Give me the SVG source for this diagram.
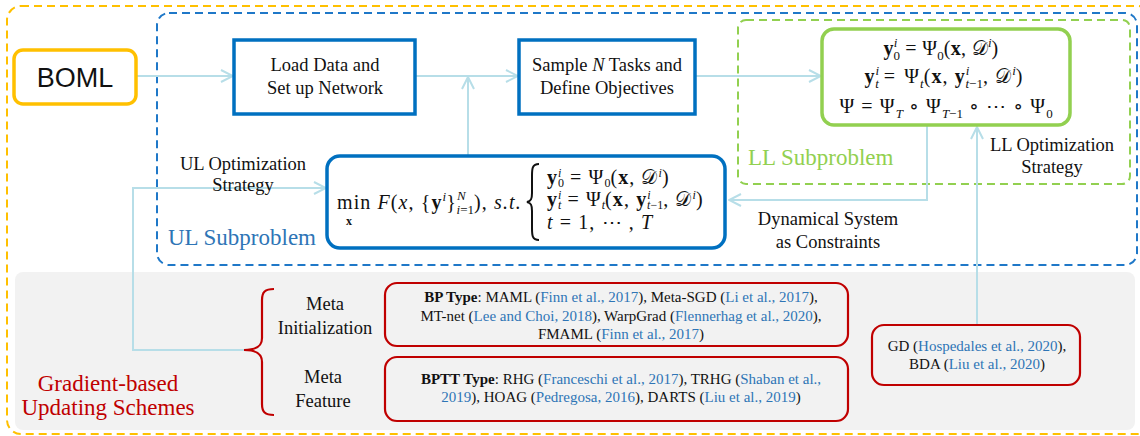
<svg xmlns="http://www.w3.org/2000/svg" width="1140" height="436" viewBox="0 0 1140 436">
<style>
.t{font-family:"Liberation Serif","Times New Roman",serif;fill:#111}
.s{font-family:"Liberation Sans",Arial,sans-serif}
.m{font-family:"Liberation Serif","DejaVu Serif",serif;font-size:20px;letter-spacing:1.1px;fill:#111}
.b{font-weight:bold}
.i{font-style:italic}
.sup,.sub{font-size:13px;letter-spacing:0}
.sm{font-size:12px;letter-spacing:0}
.it{font-style:italic}
.cit{fill:#2E75B6}
.conn{fill:none;stroke:#B7DEE8;stroke-width:2}
.node{fill:#fff;stroke:#0070C0;stroke-width:3.5}
.red{fill:none;stroke:#C00000;stroke-width:2.2}
.ref{font-size:15px;text-anchor:middle}
</style>
<defs>
<marker id="arr" viewBox="0 0 14 14" refX="13" refY="7" markerWidth="14" markerHeight="14" markerUnits="userSpaceOnUse" orient="auto">
<path d="M1,1 L13,7 L1,13" fill="none" stroke="#B7DEE8" stroke-width="2"/>
</marker>
</defs>
<rect width="1140" height="436" fill="#fff"/>
<g id="outer">
<rect x="7" y="6" width="1145" height="428" rx="14" fill="none" stroke="#FFC000" stroke-width="2" stroke-dasharray="8 5"/>
<rect x="15" y="272" width="1120" height="158" rx="8" fill="#F2F2F2"/>
</g>
<g id="ul-region">
<rect x="157" y="13" width="980" height="252" rx="12" fill="none" stroke="#1F78C8" stroke-width="2" stroke-dasharray="8 5"/>
<text class="t" x="168" y="245" font-size="23" style="fill:#2E75B6">UL Subproblem</text>
</g>
<g id="ll-region">
<rect x="738" y="20" width="392" height="164" rx="8" fill="none" stroke="#92D050" stroke-width="2" stroke-dasharray="8 5"/>
<text class="t" x="748" y="165" font-size="23" style="fill:#92D050">LL Subproblem</text>
</g>
<g id="connectors">
<path class="conn" d="M137 76 H233" marker-end="url(#arr)"/>
<path class="conn" d="M415 76 H518" marker-end="url(#arr)"/>
<path class="conn" d="M468 156 V77" marker-end="url(#arr)"/>
<path class="conn" d="M695 76 H821" marker-end="url(#arr)"/>
<path class="conn" d="M927 126 V200 H729" marker-end="url(#arr)"/>
<path class="conn" d="M977 325 V127" marker-end="url(#arr)"/>
<path class="conn" d="M244 350 H133 V188 H326" marker-end="url(#arr)"/>
</g>
<g id="boml">
<rect x="14" y="50" width="122" height="54" rx="9" fill="#fff" stroke="#FFC000" stroke-width="3.5"/>
<text class="s" x="75" y="87" font-size="27" text-anchor="middle" fill="#111">BOML</text>
</g>
<g id="load">
<rect class="node" x="234" y="40" width="181" height="74"/>
<text class="t" x="325" y="71" font-size="18.5" text-anchor="middle">Load Data and</text>
<text class="t" x="325" y="94" font-size="18.5" text-anchor="middle">Set up Network</text>
</g>
<g id="sample">
<rect class="node" x="519" y="40" width="176" height="74"/>
<text class="t" x="607" y="71" font-size="18.5" text-anchor="middle">Sample <tspan class="it">N</tspan> Tasks and</text>
<text class="t" x="607" y="94" font-size="18.5" text-anchor="middle">Define Objectives</text>
</g>
<g id="ll-box">
<rect x="822" y="29" width="248" height="96" rx="12" fill="#fff" stroke="#92D050" stroke-width="3.5"/>
<text class="m" x="941" y="55" text-anchor="middle" style="letter-spacing:0.3px"><tspan class="b">y</tspan><tspan class="sup i" dy="-8">i</tspan><tspan class="sub" dx="-4" dy="13">0</tspan><tspan dy="-5"> = Ψ</tspan><tspan class="sub" dy="5">0</tspan><tspan dy="-5">(</tspan><tspan class="b">x</tspan>, 𝒟<tspan class="sup i" dy="-8">i</tspan><tspan dy="8">)</tspan></text>
<text class="m" x="944" y="83" text-anchor="middle"><tspan class="b">y</tspan><tspan class="sup i" dy="-8">i</tspan><tspan class="sub i" dx="-4" dy="13">t</tspan><tspan dx="5" dy="-5">=</tspan><tspan dx="8">Ψ</tspan><tspan class="sub i" dy="5">t</tspan><tspan dy="-5">(</tspan><tspan class="b">x</tspan>, <tspan class="b">y</tspan><tspan class="sup i" dy="-8">i</tspan><tspan class="sub" dx="-4" dy="13"><tspan class="i">t</tspan>−1</tspan><tspan dy="-5">, 𝒟</tspan><tspan class="sup i" dy="-8">i</tspan><tspan dy="8">)</tspan></text>
<text class="m" x="946" y="113" text-anchor="middle">Ψ = Ψ<tspan class="sub i" dy="5">T</tspan><tspan dy="-5"> ∘ Ψ</tspan><tspan class="sub" dy="5"><tspan class="i">T</tspan>−1</tspan><tspan dy="-5"> ∘ ⋯ ∘ Ψ</tspan><tspan class="sub" dy="5">0</tspan></text>
</g>
<g id="ul-box">
<rect class="node" x="327" y="156" width="398" height="92" rx="13"/>
<text class="m" x="337" y="209">min <tspan class="i">F</tspan>(<tspan class="i">x</tspan>, {<tspan class="b">y</tspan><tspan class="sup i" dy="-8">i</tspan><tspan dy="8">}</tspan><tspan class="sup i" dy="-9">N</tspan><tspan class="sub" dx="-9" dy="14"><tspan class="i">i</tspan>=1</tspan><tspan dy="-5">), </tspan><tspan class="i">s.t.</tspan></text>
<text class="b" x="349" y="225" font-family="Liberation Serif, serif" font-size="12" text-anchor="middle" fill="#111">x</text>
<path d="M539 164 C532 164 532 169 532 176 L532 193 C532 199 531 201 527 202 C531 203 532 205 532 211 L532 228 C532 235 532 240 539 240" fill="none" stroke="#111" stroke-width="2"/>
<text class="m" x="547" y="184"><tspan class="b">y</tspan><tspan class="sm i" dy="-7">i</tspan><tspan class="sm" dx="-3.5" dy="10">0</tspan><tspan dy="-3"> = Ψ</tspan><tspan class="sm" dy="3">0</tspan><tspan dy="-3">(</tspan><tspan class="b">x</tspan>, 𝒟<tspan class="sm i" dy="-7">i</tspan><tspan dy="7">)</tspan></text>
<text class="m" x="547" y="206"><tspan class="b">y</tspan><tspan class="sm i" dy="-7">i</tspan><tspan class="sm i" dx="-3.5" dy="10">t</tspan><tspan dy="-3"> = Ψ</tspan><tspan class="sm i" dy="3">t</tspan><tspan dy="-3">(</tspan><tspan class="b">x</tspan>, <tspan class="b">y</tspan><tspan class="sm i" dy="-7">i</tspan><tspan class="sm" dx="-3.5" dy="10"><tspan class="i">t</tspan>−1</tspan><tspan dy="-3">, 𝒟</tspan><tspan class="sm i" dy="-7">i</tspan><tspan dy="7">)</tspan></text>
<text class="m" x="547" y="229"><tspan class="i">t</tspan> = 1, ⋯ , <tspan class="i">T</tspan></text>
</g>
<g id="labels">
<text class="t" x="243" y="170" font-size="18.5" text-anchor="middle">UL Optimization</text>
<text class="t" x="243" y="191" font-size="18.5" text-anchor="middle">Strategy</text>
<text class="t" x="1052" y="151" font-size="18.5" text-anchor="middle">LL Optimization</text>
<text class="t" x="1052" y="173" font-size="18.5" text-anchor="middle">Strategy</text>
<text class="t" x="828" y="225" font-size="18.5" text-anchor="middle">Dynamical System</text>
<text class="t" x="828" y="248" font-size="18.5" text-anchor="middle">as Constraints</text>
</g>
<g id="schemes">
<text class="t" x="108" y="391" font-size="23" text-anchor="middle" style="fill:#C00000">Gradient-based</text>
<text class="t" x="108" y="415" font-size="23" text-anchor="middle" style="fill:#C00000">Updating Schemes</text>
<path class="red" stroke-width="2.5" d="M274 289 C265 289 262 292 262 300 L262 338 C262 346 257 350 244 350 C257 350 262 354 262 362 L262 404 C262 412 265 415 274 415"/>
<text class="t" x="325" y="310" font-size="18.5" text-anchor="middle">Meta</text>
<text class="t" x="325" y="334" font-size="18.5" text-anchor="middle">Initialization</text>
<text class="t" x="323" y="383" font-size="18.5" text-anchor="middle">Meta</text>
<text class="t" x="323" y="407" font-size="18.5" text-anchor="middle">Feature</text>
</g>
<g id="bp-box">
<rect x="385" y="283" width="463" height="63" rx="12" fill="none" stroke="#C00000" stroke-width="2.2"/>
<text class="t ref" x="621" y="302"><tspan class="b">BP Type</tspan>: MAML (<tspan class="cit">Finn et al., 2017</tspan>), Meta-SGD (<tspan class="cit">Li et al., 2017</tspan>),</text>
<text class="t ref" x="621" y="321">MT-net (<tspan class="cit">Lee and Choi, 2018</tspan>),  WarpGrad (<tspan class="cit">Flennerhag et al., 2020</tspan>),</text>
<text class="t ref" x="621" y="339">FMAML (<tspan class="cit">Finn et al., 2017</tspan>)</text>
</g>
<g id="bptt-box">
<rect x="385" y="357" width="463" height="64" rx="12" fill="none" stroke="#C00000" stroke-width="2.2"/>
<text class="t ref" x="621" y="384"><tspan class="b">BPTT Type</tspan>: RHG (<tspan class="cit">Franceschi et al., 2017</tspan>), TRHG (<tspan class="cit">Shaban et al.,</tspan></text>
<text class="t ref" x="621" y="402"><tspan class="cit">2019</tspan>), HOAG (<tspan class="cit">Pedregosa, 2016</tspan>), DARTS (<tspan class="cit">Liu et al., 2019</tspan>)</text>
</g>
<g id="gd-box">
<rect x="872" y="325" width="208" height="60" rx="12" fill="none" stroke="#C00000" stroke-width="2.2"/>
<text class="t ref" x="977" y="351">GD (<tspan class="cit">Hospedales et al., 2020</tspan>),</text>
<text class="t ref" x="977" y="369">BDA (<tspan class="cit">Liu et al., 2020</tspan>)</text>
</g>
</svg>
